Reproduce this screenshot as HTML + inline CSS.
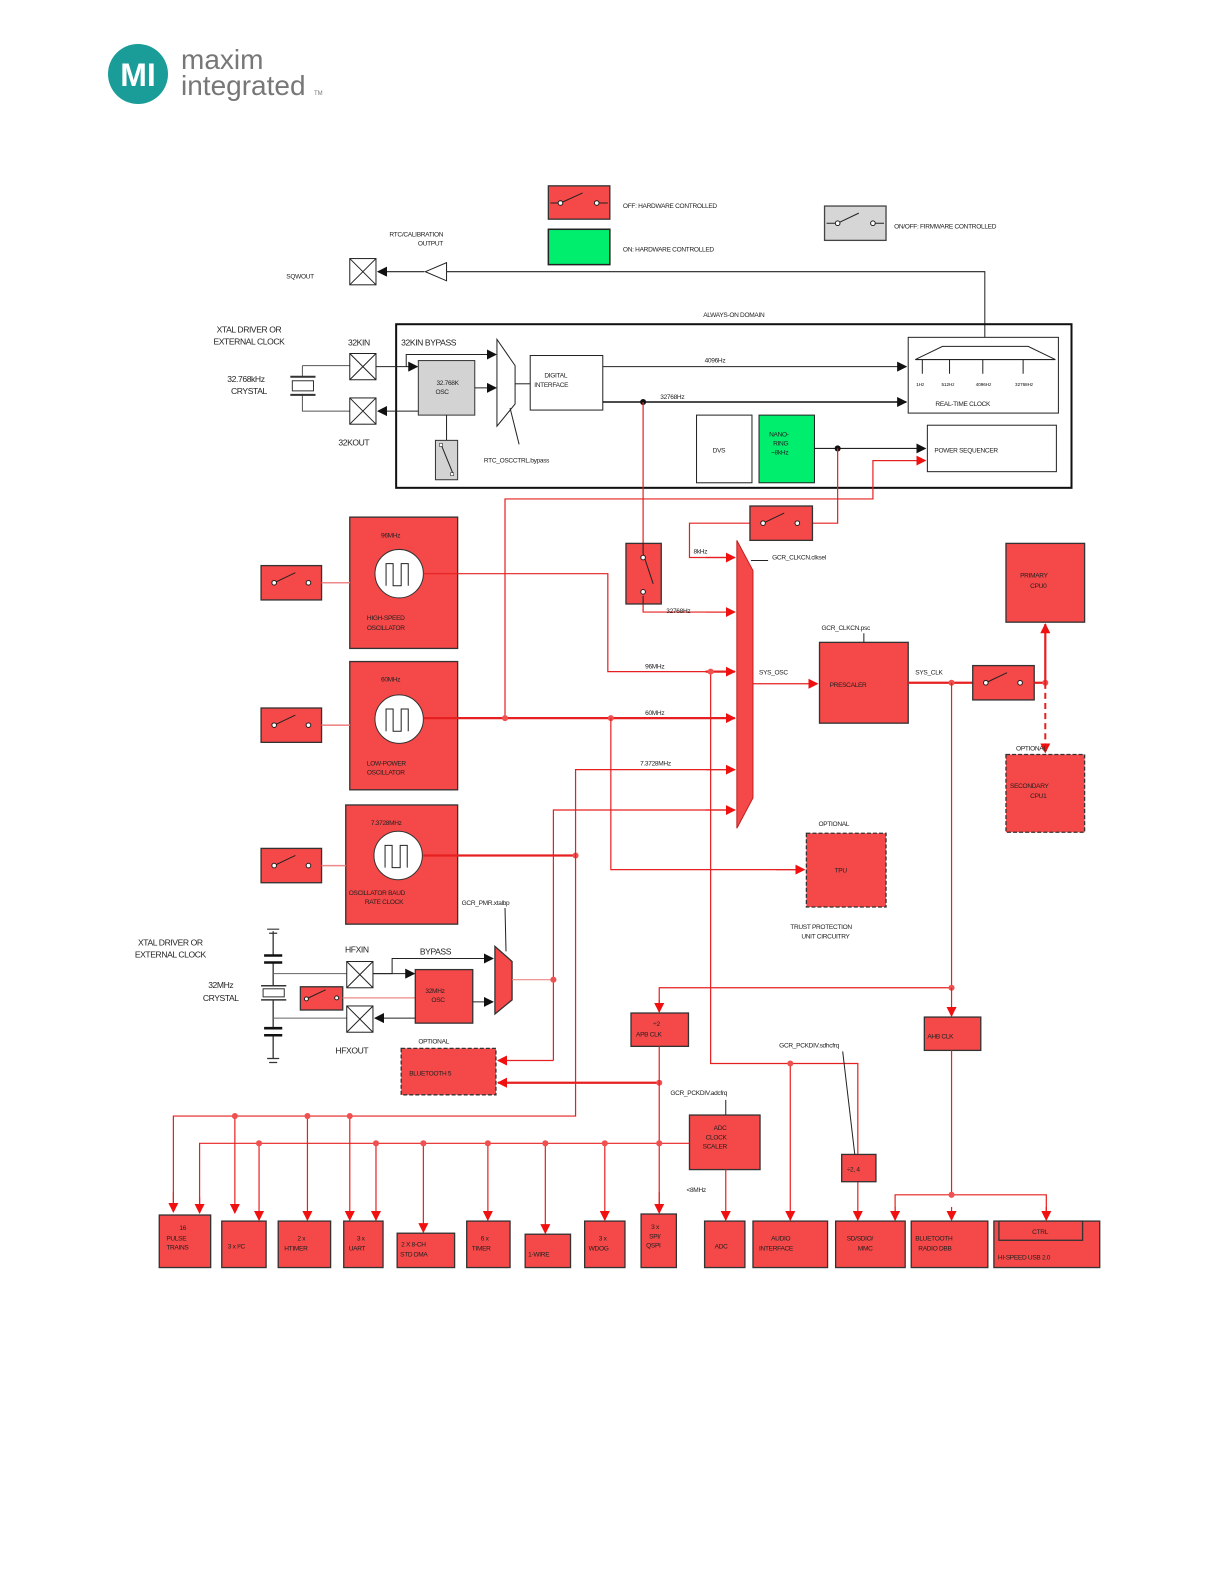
<!DOCTYPE html>
<html><head><meta charset="utf-8">
<style>
html,body{margin:0;padding:0;background:#fff;}
svg{display:block;}
text{font-family:"Liberation Sans",sans-serif;}
.t{font-size:6.5px;fill:#222;letter-spacing:-0.3px;}
.m{font-size:8.5px;fill:#222;letter-spacing:-0.4px;}
.r{fill:#f54848;stroke:#333;stroke-width:1.3;}
.rd{fill:#f54848;stroke:#333;stroke-width:1.3;stroke-dasharray:4 2;}
.w{fill:#fff;stroke:#222;stroke-width:1;}
.rl{stroke:#e62020;stroke-width:1.2;fill:none;}
.rt{stroke:#e62020;stroke-width:2.2;fill:none;}
.bl{stroke:#222;stroke-width:1;fill:none;}
</style></head>
<body>
<svg width="1224" height="1584" viewBox="0 0 1224 1584" xmlns="http://www.w3.org/2000/svg">
<defs>
<marker id="ar" markerWidth="10" markerHeight="10" refX="9" refY="5" orient="auto" markerUnits="userSpaceOnUse"><path d="M0,0 L10,5 L0,10 z" fill="#f01010"/></marker>
<marker id="ab" markerWidth="10" markerHeight="10" refX="9" refY="5" orient="auto" markerUnits="userSpaceOnUse"><path d="M0,0 L10,5 L0,10 z" fill="#111"/></marker>
</defs>
<!-- logo -->
<circle cx="138" cy="74" r="30" fill="#1a9d99"/>
<text x="138" y="86" font-size="32" font-weight="bold" fill="#fff" text-anchor="middle" font-family="Liberation Sans">MI</text>
<text x="181" y="69" font-size="28" fill="#777">maxim</text>
<text x="181" y="95" font-size="28" fill="#777">integrated</text>
<text x="314" y="95" font-size="6" fill="#777">TM</text>

<g transform="scale(1.008,1.01)">
<!-- legend -->
<rect x="544" y="184" width="61" height="33" class="r"/>
<path d="M546,201 H556 M556,201 L578,191 M592,201 H603" stroke="#222" stroke-width="1"/>
<circle cx="556" cy="201" r="2.3" fill="#fff" stroke="#222"/><circle cx="592" cy="201" r="2.3" fill="#fff" stroke="#222"/>
<text x="618" y="206" class="t">OFF: HARDWARE CONTROLLED</text>
<rect x="544" y="227" width="61" height="35" fill="#00ee6e" stroke="#222" stroke-width="1.5"/>
<text x="618" y="249" class="t">ON: HARDWARE CONTROLLED</text>
<rect x="818" y="204" width="61" height="34" fill="#d6d6d6" stroke="#444" stroke-width="1.3"/>
<path d="M820,221 H831 M831,221 L852,211 M866,221 H877" stroke="#222" stroke-width="1"/>
<circle cx="831" cy="221" r="2.3" fill="#fff" stroke="#222"/><circle cx="866" cy="221" r="2.3" fill="#fff" stroke="#222"/>
<text x="887" y="226" class="t">ON/OFF: FIRMWARE CONTROLLED</text>

<!-- SQWOUT -->
<text x="413" y="234" class="t" text-anchor="middle">RTC/CALIBRATION</text>
<text x="427" y="243" class="t" text-anchor="middle">OUTPUT</text>
<text x="284" y="276" class="t">SQWOUT</text>
<rect x="347" y="256" width="26" height="26" class="w"/><path d="M347,256 L373,282 M373,256 L347,282" class="bl"/>
<line x1="421" y1="269" x2="375" y2="269" class="bl" marker-end="url(#ab)"/>
<path d="M422,269 L443,260 L443,278 Z" class="w"/>
<path d="M443,269 H977 V335" class="bl"/>

<!-- always on domain -->
<text x="728" y="314" class="t" text-anchor="middle">ALWAYS-ON DOMAIN</text>
<rect x="393" y="321" width="670" height="162" fill="none" stroke="#111" stroke-width="2"/>
<text x="247" y="329" class="m" text-anchor="middle">XTAL DRIVER OR</text>
<text x="247" y="341" class="m" text-anchor="middle">EXTERNAL CLOCK</text>
<text x="244" y="378" class="m" text-anchor="middle">32.768kHz</text>
<text x="247" y="390" class="m" text-anchor="middle">CRYSTAL</text>
<text x="356" y="342" class="m" text-anchor="middle">32KIN</text>
<text x="351" y="441" class="m" text-anchor="middle">32KOUT</text>
<text x="398" y="342" class="m">32KIN BYPASS</text>
<path d="M300,362 V373 M300,390 V407 H347 M300,362 H347" stroke="#555" stroke-width="1" fill="none"/>
<path d="M288,373 H313 M288,391 H313" stroke="#333" stroke-width="2"/>
<rect x="290" y="377" width="21" height="10" fill="#fff" stroke="#333"/>
<rect x="347" y="350" width="26" height="26" class="w"/><path d="M347,350 L373,376 M373,350 L347,376" class="bl"/>
<rect x="347" y="394" width="26" height="26" class="w"/><path d="M347,394 L373,420 M373,394 L347,420" class="bl"/>
<line x1="373" y1="363" x2="414" y2="363" class="bl" marker-end="url(#ab)"/>
<path d="M403,363 V351 H492" class="bl" marker-end="url(#ab)"/>
<rect x="415" y="357" width="56" height="54" fill="#d3d3d3" stroke="#333" stroke-width="1"/>
<text x="433" y="381" class="t">32.768K</text><text x="432" y="390" class="t">OSC</text>
<line x1="471" y1="384" x2="492" y2="384" class="bl" marker-end="url(#ab)"/>
<line x1="415" y1="407" x2="375" y2="407" class="bl" marker-end="url(#ab)"/>
<line x1="443" y1="411" x2="443" y2="436" class="bl"/>
<rect x="432" y="436" width="22" height="39" fill="#d3d3d3" stroke="#333"/>
<path d="M438,441 L449,468" class="bl"/><rect x="436" y="439" width="3" height="3" fill="#fff" stroke="#333" stroke-width=".6"/><rect x="447" y="468" width="3" height="3" fill="#fff" stroke="#333" stroke-width=".6"/>
<path d="M493,336 L511,362 L511,400 L493,422 Z" fill="#fff" stroke="#222"/>
<path d="M506,404 L515,440" class="bl"/>
<text x="480" y="458" class="t">RTC_OSCCTRL.bypass</text>
<line x1="511" y1="380" x2="526" y2="380" class="bl"/>
<rect x="526" y="352" width="72" height="54" class="w"/>
<text x="540" y="374" class="t">DIGITAL</text><text x="530" y="383" class="t">INTERFACE</text>
<line x1="598" y1="363" x2="899" y2="363" class="bl" marker-end="url(#ab)"/>
<text x="699" y="359" class="t">4096Hz</text>
<line x1="598" y1="398" x2="899" y2="398" stroke="#111" stroke-width="1.5" marker-end="url(#ab)"/>
<text x="655" y="395" class="t">32768Hz</text>
<circle cx="638" cy="398" r="3" fill="#111"/>
<rect x="901" y="334" width="149" height="75" class="w"/>
<path d="M908,356 L935,343 H1020 L1047,356 Z" class="w"/>
<path d="M915,356 V370 M942,356 V370 M975,356 V370 M1015,356 V370" class="bl"/>
<text x="909" y="382" font-size="4.5">1Hz</text><text x="934" y="382" font-size="4.5">512Hz</text><text x="968" y="382" font-size="4.5">4096Hz</text><text x="1007" y="382" font-size="4.5">32768Hz</text>
<text x="928" y="402" class="t">REAL-TIME CLOCK</text>
<rect x="691" y="411" width="55" height="67" class="w"/><text x="707" y="448" class="t">DVS</text>
<rect x="753" y="411" width="55" height="67" fill="#00ee6e" stroke="#222"/>
<text x="763" y="432" class="t">NANO-</text><text x="767" y="441" class="t">RING</text><text x="765" y="450" class="t">~8kHz</text>
<line x1="808" y1="444" x2="918" y2="444" class="bl" marker-end="url(#ab)"/>
<circle cx="831" cy="444" r="3" fill="#111"/>
<rect x="920" y="421" width="128" height="46" class="w"/><text x="927" y="448" class="t">POWER SEQUENCER</text>

<!-- red wiring from AO domain -->
<path d="M918,456 H866 V494 H501 V711" class="rl"/>
<line x1="866" y1="456" x2="918" y2="456" class="rl" marker-end="url(#ar)"/>
<path d="M638,398 V538 M638,598 V606 H729" class="rl"/>
<line x1="700" y1="606" x2="729" y2="606" class="rl" marker-end="url(#ar)"/>
<text x="661" y="607" class="t">32768Hz</text>
<rect x="621" y="538" width="35" height="60" class="r"/>
<path d="M638,538 V548 L648,578 M638,590 V598" stroke="#222" stroke-width="1" fill="none"/>
<circle cx="638" cy="552" r="2.3" fill="#fff" stroke="#222"/><circle cx="638" cy="586" r="2.3" fill="#fff" stroke="#222"/>
<path d="M831,444 V518 H806 M744,518 H684 V552 H729" class="rl"/>
<line x1="700" y1="552" x2="729" y2="552" class="rl" marker-end="url(#ar)"/>
<text x="688" y="548" class="t">8kHz</text>
<rect x="744" y="501" width="62" height="34" class="r"/>
<path d="M757,518 L778,508 M791,518" stroke="#222" stroke-width="1"/>
<circle cx="757" cy="518" r="2.3" fill="#fff" stroke="#222"/><circle cx="791" cy="518" r="2.3" fill="#fff" stroke="#222"/>

<!-- big mux -->
<path d="M731,535 L747,565 L747,790 L731,820 Z" fill="#f54848" stroke="#c02020" stroke-width="1"/>
<path d="M745,555 H762" class="bl"/>
<text x="766" y="554" class="t">GCR_CLKCN.clksel</text>

<!-- oscillators -->
<g>
<rect x="347" y="512" width="107" height="130" class="r" stroke-width="2"/>
<circle cx="396" cy="568" r="24" fill="#fff" stroke="#333"/>
<path d="M383,580 V558 H390 V580 H398 V558 H405 V580" class="bl"/>
<text x="378" y="532" class="t">96MHz</text>
<text x="364" y="614" class="t">HIGH-SPEED</text><text x="364" y="624" class="t">OSCILLATOR</text>
<rect x="259" y="560" width="60" height="34" class="r"/>
<path d="M272,577 L293,567" stroke="#222"/><circle cx="272" cy="577" r="2.3" fill="#fff" stroke="#222"/><circle cx="306" cy="577" r="2.3" fill="#fff" stroke="#222"/>
<line x1="319" y1="577" x2="347" y2="577" stroke="#e88" stroke-width="1.5"/>

<rect x="347" y="655" width="107" height="127" class="r" stroke-width="2"/>
<circle cx="396" cy="712" r="24" fill="#fff" stroke="#333"/>
<path d="M383,724 V702 H390 V724 H398 V702 H405 V724" class="bl"/>
<text x="378" y="675" class="t">60MHz</text>
<text x="364" y="758" class="t">LOW-POWER</text><text x="364" y="767" class="t">OSCILLATOR</text>
<rect x="259" y="701" width="60" height="34" class="r"/>
<path d="M272,718 L293,708" stroke="#222"/><circle cx="272" cy="718" r="2.3" fill="#fff" stroke="#222"/><circle cx="306" cy="718" r="2.3" fill="#fff" stroke="#222"/>
<line x1="319" y1="718" x2="347" y2="718" stroke="#e88" stroke-width="1.5"/>

<rect x="343" y="797" width="111" height="118" class="r" stroke-width="2"/>
<circle cx="395" cy="847" r="24" fill="#fff" stroke="#333"/>
<path d="M382,859 V837 H389 V859 H397 V837 H404 V859" class="bl"/>
<text x="368" y="817" class="t">7.3728MHz</text>
<text x="346" y="886" class="t">OSCILLATOR BAUD</text><text x="362" y="895" class="t">RATE CLOCK</text>
<rect x="259" y="840" width="60" height="34" class="r"/>
<path d="M272,857 L293,847" stroke="#222"/><circle cx="272" cy="857" r="2.3" fill="#fff" stroke="#222"/><circle cx="306" cy="857" r="2.3" fill="#fff" stroke="#222"/>
<line x1="319" y1="857" x2="343" y2="857" stroke="#e88" stroke-width="1.5"/>
</g>

<!-- osc outputs -->
<path d="M420,568 H603 V665 H729" class="rl"/>
<line x1="700" y1="665" x2="729" y2="665" class="rt" marker-end="url(#ar)"/>
<text x="640" y="662" class="t">96MHz</text>
<line x1="420" y1="711" x2="729" y2="711" class="rt" marker-end="url(#ar)"/>
<text x="640" y="708" class="t">60MHz</text>
<circle cx="501" cy="711" r="3" fill="#f05050"/><circle cx="606" cy="711" r="3" fill="#f05050"/>
<path d="M606,711 V861 H797" class="rl"/>
<line x1="770" y1="861" x2="798" y2="861" class="rl" marker-end="url(#ar)"/>
<line x1="420" y1="847" x2="571" y2="847" class="rt"/>
<circle cx="571" cy="847" r="3" fill="#f05050"/>
<path d="M571,847 V762 H729" class="rl"/>
<line x1="700" y1="762" x2="729" y2="762" class="rl" marker-end="url(#ar)"/>
<text x="635" y="758" class="t">7.3728MHz</text>
<path d="M549,1050 V802 H729" class="rl"/>
<line x1="700" y1="802" x2="729" y2="802" class="rl" marker-end="url(#ar)"/>
<path d="M571,847 V1105 H172 V1200" class="rl"/>
<line x1="172" y1="1180" x2="172" y2="1200" class="rl" marker-end="url(#ar)"/>
<path d="M705,665 V1053 H851 V1143" class="rl"/>
<circle cx="705" cy="665" r="3" fill="#f05050"/>

<!-- SYS_OSC / prescaler -->
<line x1="747" y1="677" x2="811" y2="677" class="rl" marker-end="url(#ar)"/>
<text x="753" y="668" class="t">SYS_OSC</text>
<rect x="813" y="636" width="88" height="80" class="r"/>
<text x="823" y="680" class="t">PRESCALER</text>
<text x="815" y="624" class="t">GCR_CLKCN.psc</text>
<line x1="857" y1="627" x2="857" y2="636" class="bl"/>
<line x1="901" y1="676" x2="965" y2="676" class="rt"/>
<text x="908" y="668" class="t">SYS_CLK</text>
<circle cx="944" cy="676" r="3" fill="#f05050"/>
<rect x="965" y="659" width="61" height="34" class="r"/>
<path d="M978,676 L999,666" stroke="#222"/><circle cx="978" cy="676" r="2.3" fill="#fff" stroke="#222"/><circle cx="1012" cy="676" r="2.3" fill="#fff" stroke="#222"/>
<line x1="1026" y1="676" x2="1037" y2="676" class="rt"/>
<circle cx="1037" cy="676" r="3" fill="#f05050"/>
<line x1="1037" y1="676" x2="1037" y2="618" class="rt" marker-end="url(#ar)"/>
<line x1="1037" y1="676" x2="1037" y2="745" stroke="#e62020" stroke-width="2" stroke-dasharray="6 4" marker-end="url(#ar)"/>
<rect x="998" y="538" width="78" height="78" class="r"/>
<text x="1012" y="572" class="t">PRIMARY</text><text x="1022" y="582" class="t">CPU0</text>
<text x="1008" y="743" class="t">OPTIONAL</text>
<rect x="998" y="747" width="78" height="77" class="rd" stroke-width="2"/>
<text x="1002" y="780" class="t">SECONDARY</text><text x="1022" y="790" class="t">CPU1</text>
<text x="812" y="818" class="t">OPTIONAL</text>
<rect x="800" y="825" width="79" height="73" class="rd" stroke-width="2"/>
<text x="828" y="864" class="t">TPU</text>
<text x="784" y="920" class="t">TRUST PROTECTION</text><text x="795" y="929" class="t">UNIT CIRCUITRY</text>

<path d="M944,676 V978 H654 V1002" class="rl"/>
<line x1="654" y1="990" x2="654" y2="1002" class="rl" marker-end="url(#ar)"/>
<circle cx="944" cy="978" r="3" fill="#f05050"/>
<line x1="944" y1="978" x2="944" y2="1006" class="rl" marker-end="url(#ar)"/>
<rect x="626" y="1003" width="57" height="33" class="r"/>
<text x="648" y="1016" class="t">÷2</text><text x="631" y="1026" class="t">APB CLK</text>
<rect x="917" y="1007" width="56" height="33" class="r"/>
<text x="920" y="1028" class="t">AHB CLK</text>

<!-- 32MHz xtal -->
<text x="169" y="936" class="m" text-anchor="middle">XTAL DRIVER OR</text>
<text x="169" y="948" class="m" text-anchor="middle">EXTERNAL CLOCK</text>
<text x="219" y="978" class="m" text-anchor="middle">32MHz</text>
<text x="219" y="991" class="m" text-anchor="middle">CRYSTAL</text>
<path d="M271,922 V946 M271,953 V976 M271,990 V1018 M271,1025 V1048" stroke="#333" stroke-width="1.3"/>
<path d="M262,946 H280 M262,953 H280 M262,1018 H280 M262,1025 H280" stroke="#111" stroke-width="2.5"/>
<path d="M265,920 H277 M267,924 H275 M265,1048 H277 M267,1052 H275" stroke="#333" stroke-width="1.2"/>
<path d="M259,976 H284 M259,990 H284" stroke="#333" stroke-width="1.5"/>
<rect x="261" y="979" width="21" height="8" fill="#fff" stroke="#333"/>
<path d="M271,964 H344 M271,1008 H344" stroke="#666" stroke-width="1"/>
<text x="354" y="943" class="m" text-anchor="middle">HFXIN</text>
<text x="349" y="1043" class="m" text-anchor="middle">HFXOUT</text>
<rect x="344" y="952" width="26" height="26" class="w"/><path d="M344,952 L370,978 M370,952 L344,978" class="bl"/>
<rect x="344" y="996" width="26" height="26" class="w"/><path d="M344,996 L370,1022 M370,996 L344,1022" class="bl"/>
<rect x="298" y="977" width="42" height="23" class="r"/>
<path d="M304,989 L323,980" stroke="#222"/><circle cx="304" cy="989" r="2" fill="#fff" stroke="#222"/><circle cx="334" cy="988" r="2" fill="#fff" stroke="#222"/>
<line x1="340" y1="988" x2="412" y2="988" stroke="#e88" stroke-width="1.2"/>
<text x="432" y="945" class="m" text-anchor="middle">BYPASS</text>
<path d="M370,964 H389 V949 H489" class="bl" marker-end="url(#ab)"/>
<line x1="370" y1="964" x2="411" y2="964" class="bl" marker-end="url(#ab)"/>
<rect x="412" y="960" width="57" height="53" class="r"/>
<text x="422" y="983" class="t">32MHz</text><text x="428" y="992" class="t">OSC</text>
<line x1="469" y1="992" x2="489" y2="992" class="bl" marker-end="url(#ab)"/>
<line x1="412" y1="1008" x2="372" y2="1008" class="bl" marker-end="url(#ab)"/>
<path d="M491,937 L508,952 L508,990 L491,1004 Z" class="r" stroke-width="1"/>
<text x="458" y="896" class="t">GCR_PMR.xtalbp</text>
<line x1="501" y1="899" x2="502" y2="942" class="bl"/>
<path d="M508,970 H549" stroke="#e88" stroke-width="1.2"/>
<circle cx="549" cy="970" r="3" fill="#f05050"/>
<path d="M549,1050 H494" class="rl" marker-end="url(#ar)"/>
<text x="415" y="1033" class="t">OPTIONAL</text>
<rect x="398" y="1038" width="94" height="46" class="rd" stroke-width="2"/>
<text x="406" y="1065" class="t">BLUETOOTH 5</text>
<line x1="654" y1="1072" x2="494" y2="1072" class="rt" marker-end="url(#ar)"/>
<circle cx="654" cy="1072" r="3" fill="#f05050"/>
<line x1="654" y1="1036" x2="654" y2="1200" class="rl"/>
<line x1="654" y1="1180" x2="654" y2="1201" class="rl" marker-end="url(#ar)"/>

<!-- ADC clock scaler -->
<text x="665" y="1084" class="t">GCR_PCKDIV.adcfrq</text>
<line x1="720" y1="1089" x2="720" y2="1104" class="bl"/>
<rect x="684" y="1104" width="70" height="54" class="r"/>
<text x="708" y="1119" class="t">ADC</text><text x="700" y="1128" class="t">CLOCK</text><text x="697" y="1137" class="t">SCALER</text>
<line x1="720" y1="1158" x2="720" y2="1208" class="rl" marker-end="url(#ar)"/>
<text x="681" y="1180" class="t">&lt;8MHz</text>

<!-- buses -->
<path d="M684,1132 H198 V1200" class="rl" stroke-width="1.6"/>
<line x1="198" y1="1185" x2="198" y2="1201" class="rl" marker-end="url(#ar)"/>
<g class="rl">
<line x1="233" y1="1105" x2="233" y2="1201" marker-end="url(#ar)"/>
<line x1="305" y1="1105" x2="305" y2="1208" marker-end="url(#ar)"/>
<line x1="347" y1="1105" x2="347" y2="1208" marker-end="url(#ar)"/>
<line x1="257" y1="1132" x2="257" y2="1208" marker-end="url(#ar)"/>
<line x1="373" y1="1132" x2="373" y2="1208" marker-end="url(#ar)"/>
<line x1="420" y1="1132" x2="420" y2="1220" marker-end="url(#ar)"/>
<line x1="484" y1="1132" x2="484" y2="1208" marker-end="url(#ar)"/>
<line x1="541" y1="1132" x2="541" y2="1221" marker-end="url(#ar)"/>
<line x1="600" y1="1132" x2="600" y2="1208" marker-end="url(#ar)"/>
<line x1="784" y1="1053" x2="784" y2="1208" marker-end="url(#ar)"/>
<line x1="851" y1="1170" x2="851" y2="1208" marker-end="url(#ar)"/>
<path d="M944,1040 V1183 M888,1207 V1183 H1038 V1207"/>
<line x1="888" y1="1195" x2="888" y2="1208" marker-end="url(#ar)"/>
<line x1="944" y1="1195" x2="944" y2="1208" marker-end="url(#ar)"/>
<line x1="1038" y1="1195" x2="1038" y2="1208" marker-end="url(#ar)"/>
</g>
<g fill="#f05050">
<circle cx="233" cy="1105" r="3"/><circle cx="305" cy="1105" r="3"/><circle cx="347" cy="1105" r="3"/>
<circle cx="257" cy="1132" r="3"/><circle cx="373" cy="1132" r="3"/><circle cx="420" cy="1132" r="3"/><circle cx="484" cy="1132" r="3"/><circle cx="541" cy="1132" r="3"/><circle cx="600" cy="1132" r="3"/><circle cx="654" cy="1132" r="3"/>
<circle cx="784" cy="1053" r="3"/><circle cx="944" cy="1183" r="3"/>
</g>
<rect x="835" y="1143" width="34" height="27" class="r"/>
<text x="840" y="1160" class="t">÷2, 4</text>
<text x="773" y="1037" class="t">GCR_PCKDIV.sdhcfrq</text>
<line x1="836" y1="1041" x2="848" y2="1143" class="bl"/>

<!-- bottom boxes -->
<g>
<rect x="158" y="1203" width="51" height="52" class="r"/><text x="178" y="1218" class="t">16</text><text x="165" y="1228" class="t">PULSE</text><text x="165" y="1237" class="t">TRAINS</text>
<rect x="220" y="1209" width="44" height="46" class="r"/><text x="226" y="1236" class="t">3 x I²C</text>
<rect x="276" y="1209" width="52" height="46" class="r"/><text x="295" y="1228" class="t">2 x</text><text x="282" y="1238" class="t">HTIMER</text>
<rect x="341" y="1209" width="39" height="46" class="r"/><text x="354" y="1228" class="t">3 x</text><text x="346" y="1238" class="t">UART</text>
<rect x="394" y="1221" width="57" height="34" class="r"/><text x="398" y="1234" class="t">2 X 8-CH</text><text x="397" y="1244" class="t">STD DMA</text>
<rect x="463" y="1209" width="43" height="46" class="r"/><text x="477" y="1228" class="t">6 x</text><text x="468" y="1238" class="t">TIMER</text>
<rect x="521" y="1222" width="45" height="33" class="r"/><text x="524" y="1244" class="t">1-WIRE</text>
<rect x="580" y="1209" width="40" height="46" class="r"/><text x="594" y="1228" class="t">3 x</text><text x="584" y="1238" class="t">WDOG</text>
<rect x="636" y="1202" width="35" height="53" class="r"/><text x="646" y="1217" class="t">3 x</text><text x="644" y="1226" class="t">SPI/</text><text x="641" y="1235" class="t">QSPI</text>
<rect x="699" y="1209" width="40" height="46" class="r"/><text x="709" y="1236" class="t">ADC</text>
<rect x="747" y="1209" width="74" height="46" class="r"/><text x="765" y="1228" class="t">AUDIO</text><text x="753" y="1238" class="t">INTERFACE</text>
<rect x="829" y="1209" width="69" height="46" class="r"/><text x="840" y="1228" class="t">SD/SDIO/</text><text x="851" y="1238" class="t">MMC</text>
<rect x="904" y="1209" width="76" height="46" class="r"/><text x="908" y="1228" class="t">BLUETOOTH</text><text x="911" y="1238" class="t">RADIO DBB</text>
<rect x="986" y="1209" width="105" height="46" class="r"/>
<rect x="991" y="1209" width="83" height="19" class="r"/><text x="1024" y="1222" class="t">CTRL</text>
<text x="990" y="1247" class="t">HI-SPEED USB 2.0</text>
</g>
</g>
</svg>
</body></html>
